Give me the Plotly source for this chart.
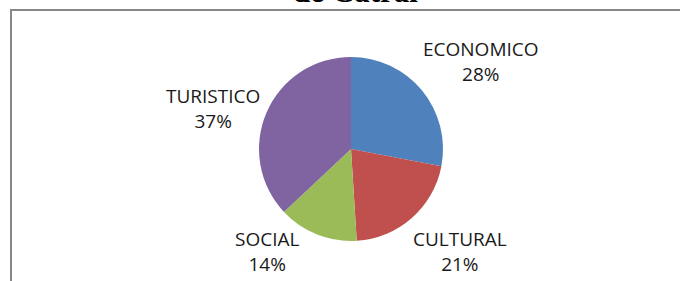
import plotly.graph_objects as go

W, H = 680, 281

categories = ["ECONOMICO", "CULTURAL", "SOCIAL", "TURISTICO"]
values = [28, 21, 14, 37]
colors = ["#4F81BD", "#C0504D", "#9BBB59", "#8064A2"]
title_text = "de Catral"

# label block centres (pixels) for the outside data labels
label_px = [(481, 62), (460, 251), (267, 251), (213, 109)]

cx, cy, r = 351, 149, 92


def fx(px):
    return px / W


def fy(py):
    return 1 - py / H


fig = go.Figure(go.Pie(
    labels=categories,
    values=values,
    sort=False,
    direction="clockwise",
    rotation=0,
    marker=dict(colors=colors, line=dict(width=0)),
    textinfo="none",
    hoverinfo="label+percent",
    showlegend=False,
    domain=dict(x=[fx(cx - r), fx(cx + r)], y=[fy(cy + r), fy(cy - r)]),
))

total = sum(values)
annotations = []
for cat, v, (px, py) in zip(categories, values, label_px):
    pct = round(100 * v / total)
    annotations.append(dict(
        x=fx(px), y=fy(py), xref="paper", yref="paper",
        xanchor="center", yanchor="middle", showarrow=False,
        text=f"{cat}<br>{pct}%",
        font=dict(family="Liberation Sans Narrow, Open Sans, sans-serif", size=19, color="#1a1a1a"),
    ))

# title: only its lower part shows above the chart frame, as in the source
annotations.append(dict(
    x=fx(355), y=fy(11), xref="paper", yref="paper",
    xanchor="center", yanchor="bottom", showarrow=False,
    text=f"<b>{title_text}</b>",
    font=dict(family="Liberation Serif, Times New Roman, serif", size=31, color="#000000"),
))

fig.update_layout(
    width=W, height=H,
    margin=dict(l=0, r=0, t=0, b=0),
    paper_bgcolor="white",
    plot_bgcolor="white",
    annotations=annotations,
    shapes=[dict(
        type="rect", xref="paper", yref="paper",
        x0=fx(11), x1=1.05, y0=-0.05, y1=fy(10),
        line=dict(color="#888888", width=2),
    )],
)

fig.write_html(
    "out.html",
    config={"displayModeBar": False},
    post_script="document.body.style.margin='0';",
)
